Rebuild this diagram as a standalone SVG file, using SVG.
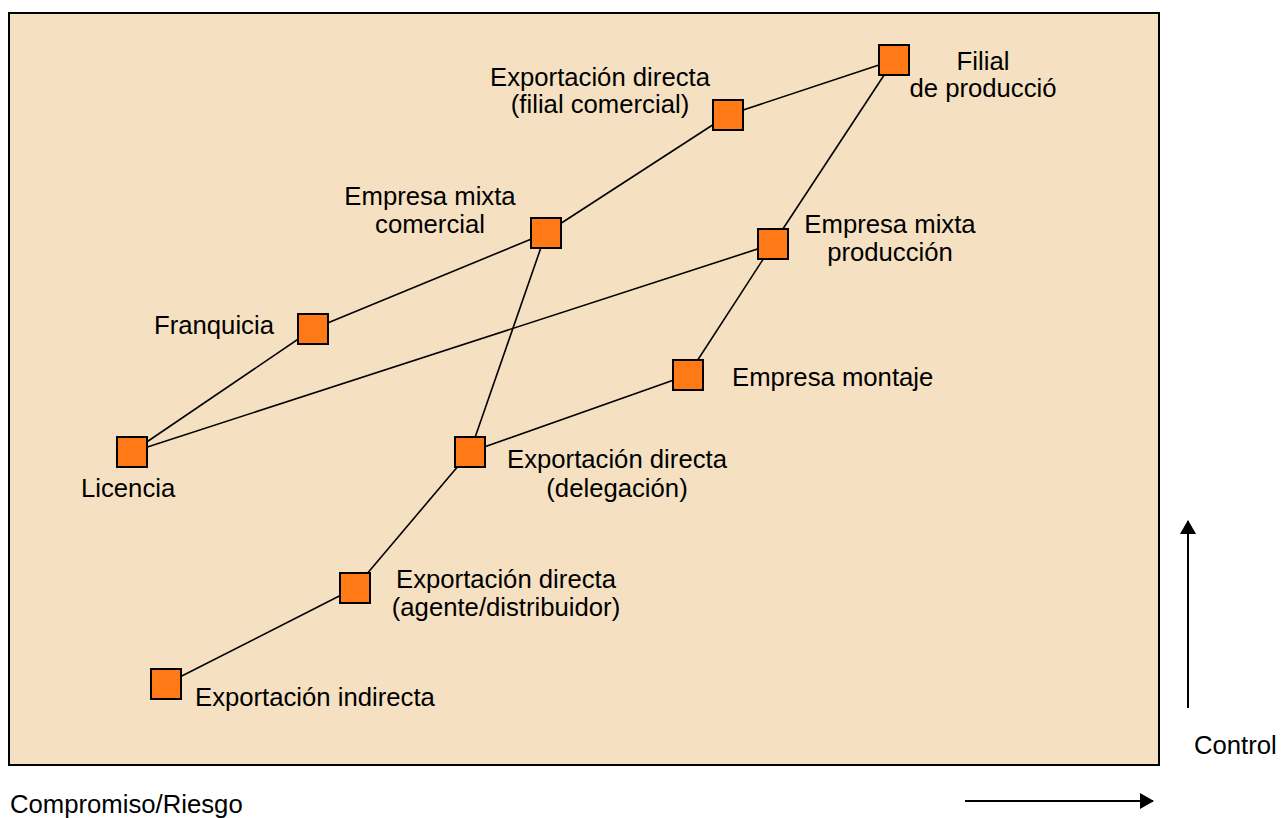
<svg xmlns="http://www.w3.org/2000/svg" width="1286" height="818" viewBox="0 0 1286 818">
<defs>
<style>
.t{font-family:"Liberation Sans",Arial,sans-serif;font-size:25.7px;fill:#000}
.c{text-anchor:middle}
.n{fill:#FF7A17;stroke:#000;stroke-width:2}
.l{stroke:#000;stroke-width:1.6;fill:none}
.a{stroke:#000;stroke-width:2;fill:none}
</style>
<marker id="ah" viewBox="0 0 14 16" refX="13" refY="8" markerWidth="14" markerHeight="16" markerUnits="userSpaceOnUse" orient="auto">
<path d="M0,0 L14,8 L0,16 Z" fill="#000"/>
</marker>
</defs>
<rect width="1286" height="818" fill="#fff"/>
<rect x="9" y="13" width="1150" height="752" fill="#F5E1C1" stroke="#000" stroke-width="2"/>
<g id="connectors">
<line class="l" x1="166" y1="684" x2="355" y2="588"/>
<line class="l" x1="355" y1="588" x2="470" y2="452"/>
<line class="l" x1="470" y1="452" x2="688" y2="375"/>
<line class="l" x1="470" y1="452" x2="546" y2="233"/>
<line class="l" x1="688" y1="375" x2="773" y2="244"/>
<line class="l" x1="773" y1="244" x2="894" y2="60"/>
<line class="l" x1="773" y1="244" x2="132" y2="452"/>
<line class="l" x1="132" y1="452" x2="313" y2="329"/>
<line class="l" x1="313" y1="329" x2="546" y2="233"/>
<line class="l" x1="546" y1="233" x2="728" y2="115"/>
<line class="l" x1="728" y1="115" x2="894" y2="60"/>
</g>
<g id="filial-produccion"><rect class="n" x="879" y="45" width="30" height="30"/><text class="t c" x="983" y="70">Filial</text><text class="t c" x="983" y="97">de producció</text></g>
<g id="export-filial-comercial"><rect class="n" x="713" y="100" width="30" height="30"/><text class="t c" x="600" y="86">Exportación directa</text><text class="t c" x="600" y="113">(filial comercial)</text></g>
<g id="mixta-comercial"><rect class="n" x="531" y="218" width="30" height="30"/><text class="t c" x="430" y="205">Empresa mixta</text><text class="t c" x="430" y="233">comercial</text></g>
<g id="mixta-produccion"><rect class="n" x="758" y="229" width="30" height="30"/><text class="t c" x="890" y="233">Empresa mixta</text><text class="t c" x="890" y="261">producción</text></g>
<g id="franquicia"><rect class="n" x="298" y="314" width="30" height="30"/><text class="t" x="154" y="334">Franquicia</text></g>
<g id="montaje"><rect class="n" x="673" y="360" width="30" height="30"/><text class="t" x="732" y="386">Empresa montaje</text></g>
<g id="licencia"><rect class="n" x="117" y="437" width="30" height="30"/><text class="t" x="81" y="497">Licencia</text></g>
<g id="export-delegacion"><rect class="n" x="455" y="437" width="30" height="30"/><text class="t c" x="617" y="468">Exportación directa</text><text class="t c" x="617" y="497">(delegación)</text></g>
<g id="export-agente"><rect class="n" x="340" y="573" width="30" height="30"/><text class="t c" x="506" y="588">Exportación directa</text><text class="t c" x="506" y="616">(agente/distribuidor)</text></g>
<g id="export-indirecta"><rect class="n" x="151" y="669" width="30" height="30"/><text class="t" x="195" y="706">Exportación indirecta</text></g>
<g id="axes">
<line class="a" x1="1188" y1="708" x2="1188" y2="521" marker-end="url(#ah)"/>
<line class="a" x1="965" y1="801" x2="1153" y2="801" marker-end="url(#ah)"/>
<text class="t" x="1194" y="754">Control</text>
<text class="t" x="10" y="813">Compromiso/Riesgo</text>
</g>
</svg>
